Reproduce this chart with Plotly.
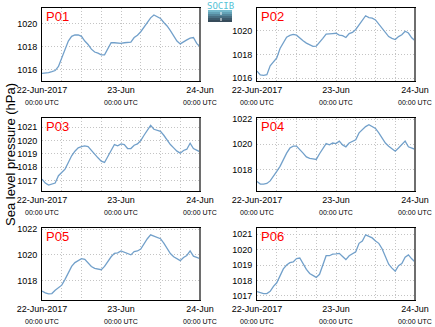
import pandas as pd
import plotly.graph_objects as go

W, H = 435, 327

times = pd.date_range("2017-06-22 00:00", "2017-06-24 00:00", freq="1h")

stations = ["P01", "P02", "P03", "P04", "P05", "P06"]

p01 = [1015.70, 1015.72, 1015.77, 1015.85, 1015.95, 1016.3, 1017.0, 1017.7, 1018.5, 1018.9,
       1019.03, 1019.02, 1018.9, 1018.5, 1018.2, 1017.8, 1017.55, 1017.45, 1017.3, 1017.3,
       1017.85, 1018.35, 1018.35, 1018.3, 1018.3, 1018.35, 1018.38, 1018.4, 1018.8, 1019.0,
       1019.3, 1019.7, 1020.2, 1020.5, 1020.75, 1020.6, 1020.45, 1020.1, 1019.8, 1019.4,
       1018.9, 1018.5, 1018.25, 1018.45, 1018.6, 1018.75, 1018.8, 1018.3, 1018.0]
p02 = [1016.6, 1016.28, 1016.25, 1016.3, 1017.05, 1017.35, 1017.7, 1018.5, 1019.0, 1019.45,
       1019.6, 1019.68, 1019.62, 1019.35, 1019.15, 1018.95, 1018.78, 1018.68, 1018.7, 1019.0,
       1019.35, 1019.7, 1019.75, 1019.75, 1019.78, 1019.62, 1019.58, 1019.42, 1019.75, 1019.85,
       1020.1, 1020.5, 1020.85, 1021.25, 1021.1, 1021.05, 1020.9, 1020.55, 1020.15, 1019.75,
       1019.5, 1019.35, 1019.25, 1019.5, 1019.65, 1019.95, 1019.8, 1019.4, 1019.15]
p03 = [1017.1, 1016.8, 1016.65, 1016.72, 1016.8, 1017.35, 1017.6, 1017.85, 1018.35, 1018.85,
       1019.2, 1019.45, 1019.55, 1019.6, 1019.55, 1019.25, 1018.95, 1018.7, 1018.45, 1018.35,
       1018.8, 1019.25, 1019.7, 1019.6, 1019.75, 1019.7, 1019.4, 1019.4, 1019.65, 1019.75,
       1020.0, 1020.4, 1020.75, 1021.15, 1020.85, 1020.8, 1020.7, 1020.4, 1020.05, 1019.7,
       1019.45, 1019.2, 1019.05, 1019.25, 1019.35, 1019.8, 1019.4, 1019.3, 1019.15]
p04 = [1017.05, 1016.85, 1016.85, 1016.9, 1017.1, 1017.45, 1017.85, 1018.25, 1018.8, 1019.3,
       1019.7, 1019.85, 1019.85, 1019.6, 1019.3, 1019.0, 1018.88, 1018.85, 1018.8, 1019.25,
       1019.6, 1020.05, 1019.95, 1020.1, 1020.05, 1020.25, 1019.95, 1019.8, 1020.1, 1020.2,
       1020.35, 1020.9, 1021.15, 1021.4, 1021.55, 1021.4, 1021.25, 1020.9, 1020.5, 1020.1,
       1019.85, 1019.65, 1019.45, 1019.7, 1019.95, 1020.25, 1019.8, 1019.7, 1019.6]
p05 = [1017.2, 1017.05, 1016.98, 1017.0, 1017.25, 1017.45, 1017.65, 1018.1, 1018.6, 1019.1,
       1019.4, 1019.55, 1019.7, 1019.65, 1019.35, 1019.1, 1018.95, 1018.9, 1018.85, 1019.1,
       1019.5, 1019.85, 1020.12, 1020.15, 1020.3, 1020.2, 1020.15, 1020.0, 1020.25, 1020.3,
       1020.45, 1020.9, 1021.25, 1021.55, 1021.45, 1021.4, 1021.25, 1020.9, 1020.5, 1020.1,
       1019.85, 1019.7, 1019.55, 1019.8, 1019.95, 1020.3, 1019.9, 1019.8, 1019.7]
p06 = [1017.28, 1017.2, 1017.15, 1017.15, 1017.3, 1017.62, 1017.85, 1018.3, 1018.75, 1019.0,
       1019.15, 1019.2, 1019.42, 1019.45, 1019.05, 1018.72, 1018.45, 1018.3, 1018.2, 1018.4,
       1018.95, 1019.6, 1019.6, 1019.7, 1019.72, 1019.75, 1019.55, 1019.35, 1019.6, 1019.7,
       1019.85, 1020.4, 1020.55, 1020.95, 1020.85, 1020.75, 1020.55, 1020.4, 1020.05, 1019.55,
       1019.05, 1018.8, 1018.6, 1018.95, 1019.1, 1019.5, 1019.65, 1019.4, 1019.2]

series = [p01, p02, p03, p04, p05, p06]

y_ranges = [[1015.05, 1021.35], [1015.77, 1021.9], [1016.2, 1021.7],
            [1016.3, 1022.08], [1016.5, 1022.08], [1016.74, 1021.39]]
y_ticks = [[1016, 1018, 1020], [1016, 1018, 1020], [1017, 1018, 1019, 1020, 1021],
           [1018, 1020, 1022], [1018, 1020, 1022], [1017, 1018, 1019, 1020, 1021]]

x_tickvals = ["2017-06-22 00:00", "2017-06-23 00:00", "2017-06-24 00:00"]
x_ticktext_main = ["22-Jun-2017", "23-Jun", "24-Jun"]
x_ticktext_sub = ["00:00 UTC", "00:00 UTC", "00:00 UTC"]

y_title = "Sea level pressure (hPa)"

# layout geometry (pixels)
cols_px = [(42, 200), (257, 415)]
rows_px = [(8, 81), (118, 191), (228, 300)]

FONT = "Liberation Sans, Arial, Helvetica, sans-serif"
LINE_COLOR = "#72a0ca"
GRID = "#c4c4c4"
DOT = "1px,2px"

fig = go.Figure()
layout = {}
shapes = []
annotations = []

for i, name in enumerate(stations):
    r, c = divmod(i, 2)
    n = i + 1
    xa = "x" if n == 1 else f"x{n}"
    ya = "y" if n == 1 else f"y{n}"
    xkey = "xaxis" if n == 1 else f"xaxis{n}"
    ykey = "yaxis" if n == 1 else f"yaxis{n}"
    x0, x1 = cols_px[c]
    top, bot = rows_px[r]
    fig.add_trace(go.Scatter(x=times, y=series[i], mode="lines",
                             line=dict(color=LINE_COLOR, width=1.3),
                             xaxis=xa, yaxis=ya, showlegend=False,
                             hoverinfo="x+y"))
    ticktext = [f"{a}<br><span style='font-size:7px'>{b}</span>"
                for a, b in zip(x_ticktext_main, x_ticktext_sub)]
    layout[xkey] = dict(
        domain=[x0 / W, x1 / W], anchor=ya, type="date", automargin=False,
        range=["2017-06-22 00:00", "2017-06-24 00:00"],
        tickvals=x_tickvals, ticktext=ticktext,
        tickfont=dict(family=FONT, size=9, color="#000"),
        showgrid=True, gridcolor=GRID, griddash=DOT, gridwidth=1,
        minor=dict(dtick=6 * 3600 * 1000, showgrid=True, gridcolor=GRID,
                   griddash=DOT, gridwidth=1, tick0="2017-06-22 00:00"),
        showline=True, linecolor="#000", linewidth=1, mirror=True,
        ticks="", zeroline=False, tickangle=0, fixedrange=True,
    )
    layout[ykey] = dict(
        domain=[1 - bot / H, 1 - top / H], anchor=xa, automargin=False,
        range=y_ranges[i], tickvals=y_ticks[i],
        ticktext=[str(v) for v in y_ticks[i]],
        tickfont=dict(family=FONT, size=9, color="#000"),
        showgrid=True, gridcolor=GRID, griddash=DOT, gridwidth=1,
        showline=True, linecolor="#000", linewidth=1, mirror=True,
        ticks="", zeroline=False, ticklabelstandoff=2, fixedrange=True,
    )
    # darker right frame edge
    shapes.append(dict(type="line", xref=f"{xa} domain", yref=f"{ya} domain",
                       x0=1, x1=1, y0=0, y1=1,
                       line=dict(color="#6e6e6e", width=2)))
    annotations.append(dict(text=name, xref=f"{xa} domain", yref=f"{ya} domain",
                            x=0.01, y=1.01, xanchor="left", yanchor="top",
                            showarrow=False,
                            font=dict(family=FONT, size=13, color="#ff0000")))

annotations.append(dict(text=y_title, xref="paper", yref="paper",
                        x=10 / W, y=1 - 155 / H, textangle=-90,
                        xanchor="center", yanchor="middle", showarrow=False,
                        font=dict(family=FONT, size=13, color="#000")))

# small logo at top centre
logo_cols = ["#74b9cb", "#63a2b6", "#55889c", "#486f82", "#3d5b6c", "#364b5a"]
lx0, lx1, ly0, ly1 = 208, 232, 10, 22
step = (ly1 - ly0) / len(logo_cols)
for k, col in enumerate(logo_cols):
    shapes.append(dict(type="rect", xref="paper", yref="paper",
                       x0=lx0 / W, x1=lx1 / W,
                       y0=1 - (ly0 + (k + 1) * step) / H, y1=1 - (ly0 + k * step) / H,
                       line=dict(width=0), fillcolor=col))
shapes.append(dict(type="line", xref="paper", yref="paper",
                   x0=221 / W, x1=221 / W, y0=1 - 21 / H, y1=1 - 11 / H,
                   line=dict(color="#ffffff", width=1, dash="dot")))
annotations.append(dict(text="SOCIB", xref="paper", yref="paper",
                        x=220 / W, y=1 - 6 / H, xanchor="center", yanchor="middle",
                        showarrow=False,
                        font=dict(family="DejaVu Sans Mono, monospace", size=9, color="#55c3d6")))

fig.update_layout(
    template="none",
    width=W, height=H, margin=dict(l=0, r=0, t=0, b=0, autoexpand=False),
    paper_bgcolor="#ffffff", plot_bgcolor="#ffffff",
    shapes=shapes, annotations=annotations, **layout,
)

fig.write_html("out.html", config={"displayModeBar": False})
